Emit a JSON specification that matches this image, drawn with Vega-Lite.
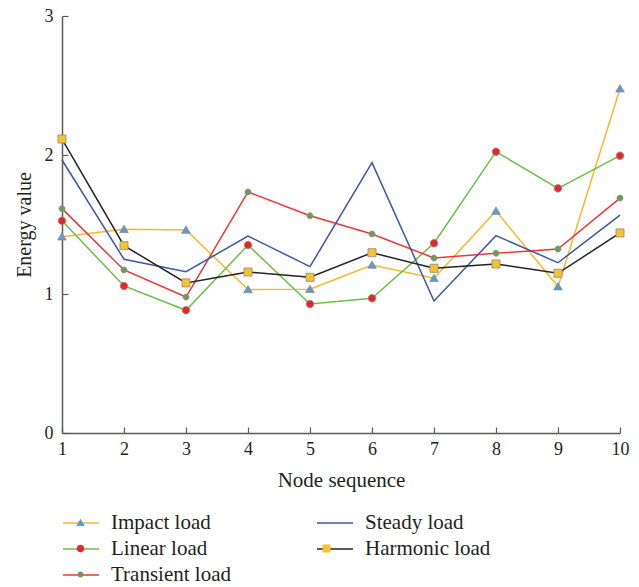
{
  "$schema": "https://vega.github.io/schema/vega-lite/v6.json",
  "width": 558,
  "height": 417,
  "autosize": "none",
  "padding": {"left": 62, "top": 16, "right": 19, "bottom": 154},
  "background": "white",
  "data": {
    "values": [
      {"node": 1, "series": "Impact load", "value": 1.412},
      {"node": 2, "series": "Impact load", "value": 1.466},
      {"node": 3, "series": "Impact load", "value": 1.46},
      {"node": 4, "series": "Impact load", "value": 1.032},
      {"node": 5, "series": "Impact load", "value": 1.034},
      {"node": 6, "series": "Impact load", "value": 1.209},
      {"node": 7, "series": "Impact load", "value": 1.113},
      {"node": 8, "series": "Impact load", "value": 1.597},
      {"node": 9, "series": "Impact load", "value": 1.053},
      {"node": 10, "series": "Impact load", "value": 2.477},
      {"node": 1, "series": "Linear load", "value": 1.527},
      {"node": 2, "series": "Linear load", "value": 1.058},
      {"node": 3, "series": "Linear load", "value": 0.883},
      {"node": 4, "series": "Linear load", "value": 1.352},
      {"node": 5, "series": "Linear load", "value": 0.928},
      {"node": 6, "series": "Linear load", "value": 0.969},
      {"node": 7, "series": "Linear load", "value": 1.365},
      {"node": 8, "series": "Linear load", "value": 2.024},
      {"node": 9, "series": "Linear load", "value": 1.76},
      {"node": 10, "series": "Linear load", "value": 1.995},
      {"node": 1, "series": "Transient load", "value": 1.614},
      {"node": 2, "series": "Transient load", "value": 1.173},
      {"node": 3, "series": "Transient load", "value": 0.978},
      {"node": 4, "series": "Transient load", "value": 1.734},
      {"node": 5, "series": "Transient load", "value": 1.563},
      {"node": 6, "series": "Transient load", "value": 1.432},
      {"node": 7, "series": "Transient load", "value": 1.259},
      {"node": 8, "series": "Transient load", "value": 1.293},
      {"node": 9, "series": "Transient load", "value": 1.324},
      {"node": 10, "series": "Transient load", "value": 1.69},
      {"node": 1, "series": "Steady load", "value": 1.964},
      {"node": 2, "series": "Steady load", "value": 1.25},
      {"node": 3, "series": "Steady load", "value": 1.16},
      {"node": 4, "series": "Steady load", "value": 1.417},
      {"node": 5, "series": "Steady load", "value": 1.197},
      {"node": 6, "series": "Steady load", "value": 1.945},
      {"node": 7, "series": "Steady load", "value": 0.95},
      {"node": 8, "series": "Steady load", "value": 1.42},
      {"node": 9, "series": "Steady load", "value": 1.225},
      {"node": 10, "series": "Steady load", "value": 1.568},
      {"node": 1, "series": "Harmonic load", "value": 2.115},
      {"node": 2, "series": "Harmonic load", "value": 1.348},
      {"node": 3, "series": "Harmonic load", "value": 1.08},
      {"node": 4, "series": "Harmonic load", "value": 1.158},
      {"node": 5, "series": "Harmonic load", "value": 1.12},
      {"node": 6, "series": "Harmonic load", "value": 1.297},
      {"node": 7, "series": "Harmonic load", "value": 1.185},
      {"node": 8, "series": "Harmonic load", "value": 1.216},
      {"node": 9, "series": "Harmonic load", "value": 1.149},
      {"node": 10, "series": "Harmonic load", "value": 1.439}
    ]
  },
  "encoding": {
    "x": {
      "field": "node", "type": "quantitative",
      "scale": {"domain": [1, 10], "nice": false, "zero": false},
      "axis": {
        "title": "Node sequence", "values": [1,2,3,4,5,6,7,8,9,10], "format": "d",
        "grid": false, "tickSize": -6, "labelPadding": 13, "titlePadding": 11,
        "labelFontSize": 18, "titleFontSize": 21, "labelFlush": false
      }
    },
    "y": {
      "field": "value", "type": "quantitative",
      "scale": {"domain": [0, 3], "nice": false},
      "axis": {
        "title": "Energy value", "values": [0,1,2,3], "format": "d",
        "grid": false, "tickSize": -6, "labelPadding": 15, "titlePadding": 10,
        "labelFontSize": 18, "titleFontSize": 20
      }
    }
  },
  "layer": [
    {
      "mark": {"type": "line", "strokeWidth": 1.5},
      "encoding": {
        "stroke": {
          "field": "series", "type": "nominal",
          "scale": {
            "domain": ["Impact load", "Linear load", "Transient load", "Steady load", "Harmonic load"],
            "range": ["#f6b92d", "#6cbf45", "#ef3535", "#3d55a5", "#222222"]
          },
          "legend": {
            "title": null, "orient": "none", "legendX": 5, "legendY": 493, "direction": "vertical",
            "columns": 2, "columnPadding": 82, "rowPadding": 2, "padding": 0,
            "symbolType": "M-1.385,0H1.385", "symbolSize": 676, "symbolStrokeWidth": 1.5,
            "labelOffset": 16, "labelFontSize": 21, "labelLimit": 300,
            "values": ["Impact load", "Linear load", "Transient load", "Steady load", "Harmonic load"]
          }
        }
      }
    },
    {
      "mark": {"type": "point", "filled": true, "size": 676, "opacity": 1, "stroke": "#8a8a8a", "strokeWidth": 0.8},
      "encoding": {
        "fill": {
          "field": "series", "type": "nominal",
          "scale": {
            "domain": ["Harmonic load", "Impact load", "Linear load", "Steady load", "Transient load"],
            "range": ["#f8c22a", "#5b9bd5", "#e8262a", "transparent", "#6a9e55"]
          },
          "legend": {
            "title": null, "orient": "none", "legendX": 5, "legendY": 493, "direction": "vertical",
            "columns": 2, "columnPadding": 203, "rowPadding": 2, "padding": 0,
            "symbolSize": 676, "symbolStrokeWidth": 0.8, "symbolStrokeColor": "#8a8a8a", "symbolOpacity": 1,
            "labelOffset": 16, "labelFontSize": 21, "labelLimit": 300, "labelExpr": "''",
            "values": ["Impact load", "Linear load", "Transient load", "Steady load", "Harmonic load"]
          }
        },
        "shape": {
          "field": "series", "type": "nominal",
          "scale": {
            "domain": ["Harmonic load", "Impact load", "Linear load", "Steady load", "Transient load"],
            "range": [
              "M-0.31,-0.31H0.31V0.31H-0.31Z",
              "M0,-0.31L0.33,0.25L-0.33,0.25Z",
              "M0.29,0A0.29,0.29,0,1,1,-0.29,0A0.29,0.29,0,1,1,0.29,0Z",
              "M0,0",
              "M0.23,0A0.23,0.23,0,1,1,-0.23,0A0.23,0.23,0,1,1,0.23,0Z"
            ]
          },
          "legend": {
            "title": null, "orient": "none", "legendX": 5, "legendY": 493, "direction": "vertical",
            "columns": 2, "columnPadding": 203, "rowPadding": 2, "padding": 0,
            "symbolSize": 676, "symbolStrokeWidth": 0.8, "symbolStrokeColor": "#8a8a8a", "symbolOpacity": 1,
            "labelOffset": 16, "labelFontSize": 21, "labelLimit": 300, "labelExpr": "''",
            "values": ["Impact load", "Linear load", "Transient load", "Steady load", "Harmonic load"]
          }
        }
      }
    }
  ],
  "config": {
    "view": {"stroke": null},
    "font": "Liberation Serif",
    "axis": {
      "domainColor": "#5a5a5a", "domainWidth": 1.5, "tickColor": "#5a5a5a", "tickWidth": 1.2,
      "labelColor": "#231f20", "titleColor": "#231f20",
      "labelFont": "Liberation Serif", "titleFont": "Liberation Serif", "titleFontWeight": "normal"
    },
    "legend": {"labelFont": "Liberation Serif", "labelColor": "#231f20"}
  }
}
